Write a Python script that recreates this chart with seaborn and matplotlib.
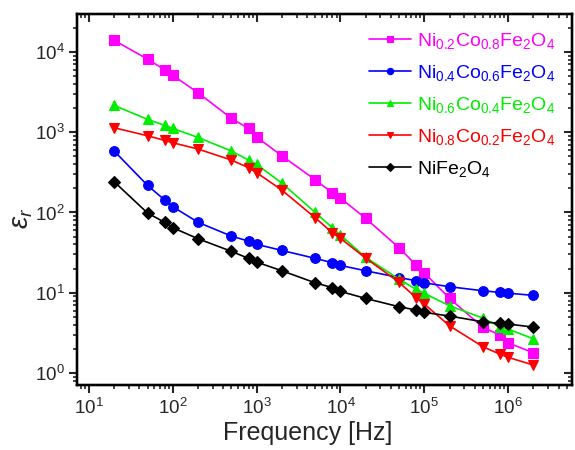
import numpy as np
import pandas as pd
import matplotlib
matplotlib.use("Agg")
import matplotlib.pyplot as plt
import matplotlib.ticker as mt
import seaborn as sns

freq = [20, 50, 80, 100, 200, 500, 800, 1e3, 2e3, 5e3, 8e3, 1e4, 2e4, 5e4, 8e4,
        1e5, 2e5, 5e5, 8e5, 1e6, 2e6]

eps_ni02 = [13900, 8130, 5980, 5100, 3100, 1486, 1114, 869, 508, 255, 176, 151,
            84.5, 36.3, 22.1, 17.7, 8.51, 3.71, 2.97, 2.38, 1.79]
eps_ni04 = [582, 217, 143, 118, 75.4, 50.8, 44.0, 40.1, 33.7, 26.8, 23.7, 21.9,
            18.8, 15.5, 14.1, 13.3, 11.9, 10.6, 10.1, 9.9, 9.27]
eps_ni06 = [2155, 1443, 1216, 1114, 861, 582, 450, 397, 232, 100, 64.5, 52.3,
            27.6, 14.8, 11.0, 9.83, 6.89, 4.84, 3.77, 3.53, 2.67]
eps_ni08 = [1135, 902, 790, 738, 617, 450, 361, 313, 190, 85.9, 55.9, 47.6,
            27.0, 13.5, 8.67, 7.23, 3.88, 2.13, 1.72, 1.57, 1.26]
eps_ni10 = [241, 98.3, 75.3, 64.6, 47.1, 32.8, 26.8, 24.1, 18.8, 13.3, 11.6, 10.4,
            8.5, 6.7, 6.1, 5.7, 5.13, 4.35, 4.16, 4.08, 3.74]

labels = [r"Ni$_{0.2}$Co$_{0.8}$Fe$_2$O$_4$",
          r"Ni$_{0.4}$Co$_{0.6}$Fe$_2$O$_4$",
          r"Ni$_{0.6}$Co$_{0.4}$Fe$_2$O$_4$",
          r"Ni$_{0.8}$Co$_{0.2}$Fe$_2$O$_4$",
          r"NiFe$_2$O$_4$"]
colors = ["#ff00ff", "#0000ff", "#00ee00", "#ff0000", "#000000"]
markers = ["s", "o", "^", "v", "D"]

series = [eps_ni02, eps_ni04, eps_ni06, eps_ni08, eps_ni10]
df = pd.concat([pd.DataFrame({"freq": freq, "eps": s, "sample": lab})
                for s, lab in zip(series, labels)], ignore_index=True)

sns.set_style("ticks")
plt.rcParams["font.family"] = ["Liberation Sans", "DejaVu Sans"]
plt.rcParams["mathtext.fontset"] = "custom"
plt.rcParams["mathtext.rm"] = "Liberation Sans"
plt.rcParams["mathtext.it"] = "Liberation Sans:italic"
plt.rcParams["mathtext.default"] = "regular"

fig = plt.figure(figsize=(5.75, 4.5), dpi=100)
ax = fig.add_axes([0.134, 0.1444, 0.861, 0.8246])

for lab, col, mk in zip(labels, colors, markers):
    sub = df[df["sample"] == lab]
    sns.lineplot(data=sub, x="freq", y="eps", ax=ax, color=col, marker=mk,
                 markersize=7 if mk != "D" else 6.3, markeredgecolor=col,
                 markeredgewidth=0.8, linewidth=1.2, label=lab, sort=False)

xlim = (7.2, 5.8e6)
ylim = (0.71, 29700)
ax.set_xscale("log")
ax.set_yscale("log")
ax.set_xlim(*xlim)
ax.set_ylim(*ylim)


def set_log_locators(axis):
    axis.set_major_locator(mt.LogLocator(base=10, numticks=20))
    axis.set_minor_locator(mt.LogLocator(base=10, subs=np.arange(2, 10), numticks=20))
    axis.set_minor_formatter(mt.NullFormatter())


set_log_locators(ax.xaxis)
set_log_locators(ax.yaxis)

ax.tick_params(axis="both", which="major", direction="out", length=6, width=1.5,
               labelsize=13.5, pad=3, top=False, right=False)
ax.tick_params(axis="both", which="minor", direction="out", length=3, width=1.2,
               top=False, right=False)

# mirrored ticks on top and right, pointing inwards
axt = ax.twiny()
axt.set_xscale("log")
axt.set_xlim(*xlim)
set_log_locators(axt.xaxis)
axt.tick_params(axis="x", which="major", direction="in", length=6, width=1.5,
                labeltop=False, top=True, bottom=False)
axt.tick_params(axis="x", which="minor", direction="in", length=3, width=1.2,
                top=True, bottom=False)

axr = ax.twinx()
axr.set_yscale("log")
axr.set_ylim(*ylim)
set_log_locators(axr.yaxis)
axr.tick_params(axis="y", which="major", direction="in", length=6, width=1.5,
                labelright=False, right=True, left=False)
axr.tick_params(axis="y", which="minor", direction="in", length=3, width=1.2,
                right=True, left=False)

for a in (ax, axt, axr):
    for sp in a.spines.values():
        sp.set_linewidth(1.6)
        sp.set_color("black")

ax.set_xlabel("Frequency [Hz]", fontsize=18)
ax.xaxis.set_label_coords(0.465, -0.098)
ax.set_ylabel(r"$\mathit{\varepsilon_r}$", fontsize=20)
ax.yaxis.set_label_coords(-0.085, 0.45)

h, l = ax.get_legend_handles_labels()
if ax.get_legend() is not None:
    ax.get_legend().remove()
leg = axr.legend(h, l, loc="upper right", frameon=False, fontsize=14,
                 handlelength=2.2, handletextpad=0.3, labelspacing=0.62,
                 markerscale=0.65, borderaxespad=0.0,
                 bbox_to_anchor=(0.982, 0.975))
for txt, col in zip(leg.get_texts(), colors):
    txt.set_color(col)

fig.savefig("out.png", dpi=100)
